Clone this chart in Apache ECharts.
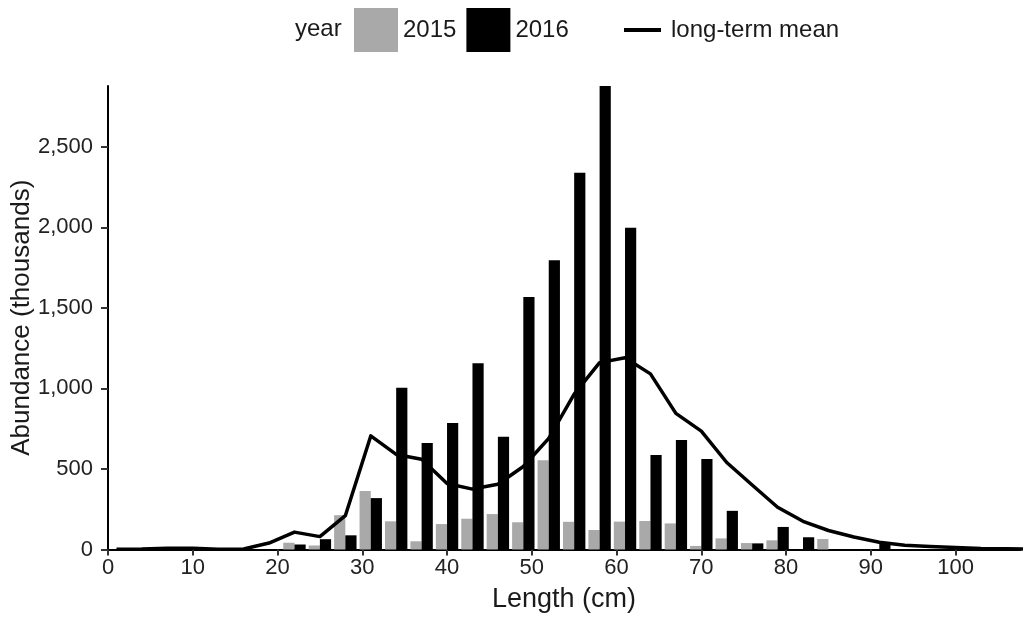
<!DOCTYPE html>
<html>
<head>
<meta charset="utf-8">
<script src="https://cdn.jsdelivr.net/npm/echarts@6/dist/echarts.min.js"></script>
<style>
  html, body { margin: 0; padding: 0; background: #fff; }
  #main { width: 1024px; height: 618px; }
</style>
</head>
<body>
<div id="main"></div>
<script>
// length bins (cm), 3 cm wide
var binCenters = [22, 25, 28, 31, 34, 37, 40, 43, 46, 49, 52, 55, 58, 61, 64, 67, 70, 73, 76, 79, 82, 85, 88, 91];
var abundance2015 = [42, 25, 213, 363, 175, 51, 158, 191, 220, 169, 554, 172, 121, 173, 177, 162, 22, 69, 40, 57, 0, 65, 0, 0];
var abundance2016 = [31, 64, 88, 319, 1004, 661, 785, 1156, 700, 1568, 1795, 2338, 2877, 1997, 587, 680, 562, 240, 38, 140, 76, 0, 0, 46];

// long-term mean
var meanLengths = [1, 4, 7, 10, 13, 16, 19, 22, 25, 28, 31, 34, 37, 40, 43, 46, 49, 52, 55, 58, 61, 64, 67, 70, 73, 76, 79, 82, 85, 88, 91, 94, 97, 100, 103, 106, 109];
var meanAbundance = [2, 3, 8, 8, 2, 3, 40, 108, 80, 210, 705, 590, 560, 410, 375, 405, 515, 690, 965, 1160, 1190, 1090, 845, 735, 540, 400, 262, 175, 118, 78, 45, 27, 18, 12, 6, 4, 3];

var xTicks = [0, 10, 20, 30, 40, 50, 60, 70, 80, 90, 100];
var yTicks = [0, 500, 1000, 1500, 2000, 2500];

var font = '"Liberation Sans", Arial, sans-serif';

function pairs(xs, ys) {
    var res = [];
    for (var i = 0; i < xs.length; i++) {
        res.push([xs[i], ys[i]]);
    }
    return res;
}

var myChart = echarts.init(document.getElementById('main'));

var option = {
    backgroundColor: '#ffffff',
    animation: false,
    textStyle: { fontFamily: font },
    graphic: [{
        type: 'text',
        left: 295,
        top: 17,
        style: { text: 'year', font: '24px ' + font, fill: '#1a1a1a' }
    }],
    legend: [{
        left: 354,
        top: 8,
        padding: 0,
        itemWidth: 44,
        itemHeight: 44,
        itemGap: 10,
        data: [{ name: '2015', icon: 'rect' }, { name: '2016', icon: 'rect' }],
        textStyle: { fontSize: 24, color: '#1a1a1a', fontFamily: font }
    }, {
        left: 624,
        top: 18,
        padding: 0,
        itemWidth: 37,
        itemHeight: 4,
        data: [{ name: 'long-term mean', icon: 'rect' }],
        textStyle: { fontSize: 24, color: '#1a1a1a', fontFamily: font, padding: [0, 0, 0, 5] }
    }],
    grid: {
        left: 108,
        right: 4,
        top: 86,
        bottom: 68.5,
        containLabel: false,
        outerBoundsMode: 'none'
    },
    xAxis: {
        type: 'value',
        min: 0,
        max: 107.6,
        interval: 10,
        name: 'Length (cm)',
        nameLocation: 'middle',
        nameGap: 37,
        nameMoveOverlap: false,
        nameTextStyle: { fontSize: 27, color: '#1a1a1a', fontFamily: font },
        splitLine: { show: false },
        axisLine: { show: true, onZero: false, lineStyle: { color: '#000', width: 2 } },
        axisTick: { show: true, length: 6, customValues: xTicks, lineStyle: { color: '#333', width: 2 } },
        axisLabel: { customValues: xTicks, fontSize: 22, color: '#222', margin: 7, fontFamily: font }
    },
    yAxis: {
        type: 'value',
        min: 0,
        max: 2877,
        interval: 500,
        name: 'Abundance (thousands)',
        nameLocation: 'middle',
        nameGap: 73,
        nameMoveOverlap: false,
        nameTextStyle: { fontSize: 26, color: '#1a1a1a', fontFamily: font },
        splitLine: { show: false },
        axisLine: { show: true, lineStyle: { color: '#000', width: 2 } },
        axisTick: { show: true, length: 7, customValues: yTicks, lineStyle: { color: '#333', width: 2 } },
        axisLabel: {
            customValues: yTicks,
            fontSize: 22,
            color: '#222',
            margin: 15,
            fontFamily: font,
            formatter: function (v) {
                return Number(v).toLocaleString('en-US');
            }
        }
    },
    series: [{
        name: '2015',
        type: 'bar',
        data: pairs(binCenters, abundance2015),
        barWidth: 11.2,
        barGap: '0%',
        itemStyle: { color: '#a9a9a9' },
        z: 2
    }, {
        name: '2016',
        type: 'bar',
        data: pairs(binCenters, abundance2016),
        barWidth: 11.2,
        barGap: '0%',
        itemStyle: { color: '#000000' },
        z: 2
    }, {
        name: 'long-term mean',
        type: 'line',
        data: pairs(meanLengths, meanAbundance),
        symbol: 'none',
        smooth: false,
        lineStyle: { color: '#000000', width: 3.5, join: 'round' },
        itemStyle: { color: '#000000' },
        z: 3
    }]
};

myChart.setOption(option);
</script>
</body>
</html>
